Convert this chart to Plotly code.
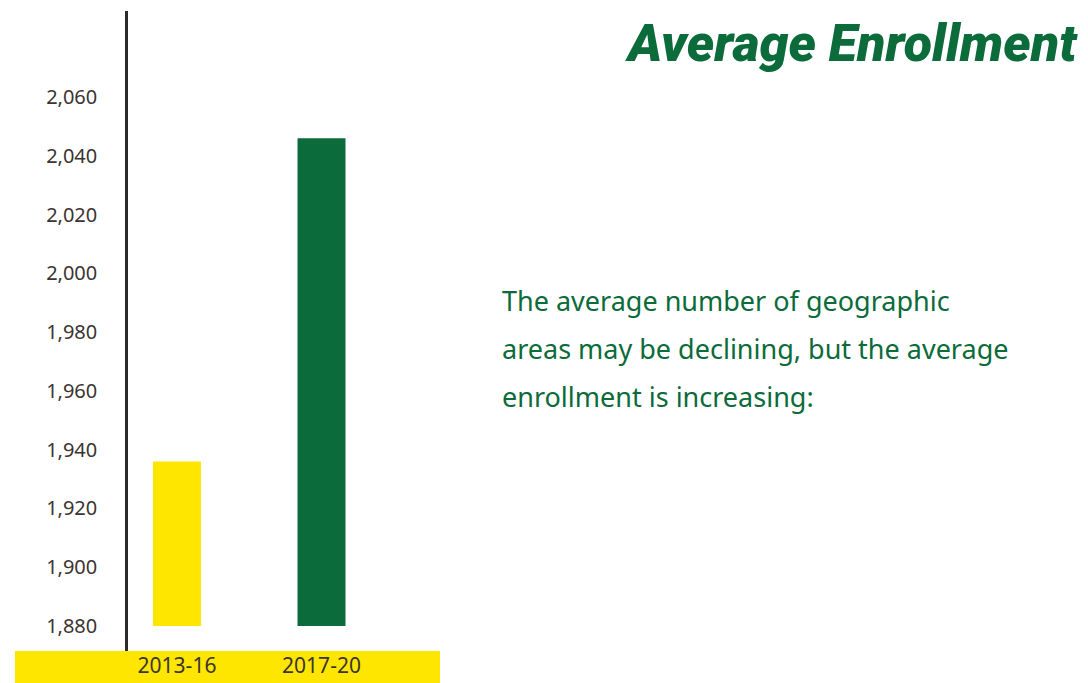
import plotly.graph_objects as go

# Average enrollment by period
periods = ["2013-16", "2017-20"]
avg_enrollment = [1936, 2046]
bar_colors = ["#FEE600", "#0B6B3A"]
y_ticks = [1880, 1900, 1920, 1940, 1960, 1980, 2000, 2020, 2040, 2060]
baseline = 1880

title_text = "Average Enrollment"
note_lines = [
    "The average number of geographic",
    "areas may be declining, but the average",
    "enrollment is increasing:",
]

GREEN = "#0B6B3A"
YELLOW = "#FEE600"
TICK_COLOR = "#3B3431"

PLOT_W = 312
PLOT_H = 640

x_pos = list(range(len(periods)))

fig = go.Figure()
fig.add_trace(go.Bar(
    x=x_pos,
    y=[v - baseline for v in avg_enrollment],
    base=baseline,
    width=0.332,
    marker=dict(color=bar_colors, line=dict(width=0)),
    hoverinfo="skip",
))

note_annotations = []
for i, line in enumerate(note_lines):
    note_annotations.append(dict(
        text=line, xref="paper", yref="paper",
        x=372 / PLOT_W, y=(651 - (300 + 48 * i)) / PLOT_H,
        xanchor="left", yanchor="middle", align="left", showarrow=False,
        font=dict(family="Noto Sans", size=27, color=GREEN),
    ))

fig.update_layout(
    width=1088,
    height=683,
    margin=dict(l=128, r=648, t=11, b=32, autoexpand=False),
    paper_bgcolor="white",
    plot_bgcolor="white",
    showlegend=False,
    font=dict(family="Noto Sans", color=TICK_COLOR),
    xaxis=dict(
        range=[-0.339, 1.82],
        tickmode="array",
        tickvals=x_pos,
        ticktext=periods,
        showgrid=False,
        zeroline=False,
        showline=False,
        ticks="",
        automargin=False,
        tickfont=dict(size=21, color=TICK_COLOR),
        fixedrange=True,
    ),
    yaxis=dict(
        range=[1871.5, 2089.3],
        tickmode="array",
        tickvals=y_ticks,
        tickformat=",",
        showgrid=False,
        zeroline=False,
        showline=True,
        linecolor="#2B2B2B",
        linewidth=2.5,
        ticks="",
        automargin=False,
        ticklabelstandoff=24,
        tickfont=dict(size=20, color=TICK_COLOR),
        fixedrange=True,
    ),
    shapes=[
        # yellow band behind the period labels
        dict(type="rect", xref="paper", yref="paper",
             x0=-113 / PLOT_W, x1=1.0, y0=-32 / PLOT_H, y1=0,
             fillcolor=YELLOW, line=dict(width=0), layer="below"),
    ],
    annotations=[
        dict(text=title_text, xref="paper", yref="paper",
             x=952 / PLOT_W, y=(651 - 44) / PLOT_H, xanchor="right", yanchor="middle",
             showarrow=False,
             font=dict(family="Roboto", size=52, color=GREEN,
                       weight=900, style="italic")),
    ] + note_annotations,
)

fig.write_html("out.html")
